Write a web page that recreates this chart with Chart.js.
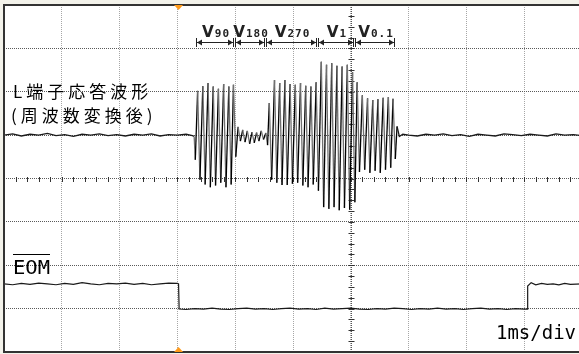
<!DOCTYPE html>
<html>
<head>
<meta charset="utf-8">
<script src="https://cdn.jsdelivr.net/npm/chart.js@4.4.1/dist/chart.umd.min.js"></script>
<style>
  html, body { margin: 0; padding: 0; background: #f3f2ea; overflow: hidden; }
  body { width: 579px; height: 354px; }
  canvas { display: block; }
</style>
</head>
<body>
<canvas id="scope" width="582" height="354"></canvas>
<script>
// time in ms (1 ms/div), level in divisions from the bottom of the screen
const ch1Time = [
  0, 0.15, 0.3, 0.45, 0.6, 0.75, 0.9, 1.05, 1.2, 1.35, 1.5, 1.65, 1.8, 1.95, 2.1, 2.25, 2.4, 2.55, 2.7, 2.85, 3.0, 3.15, 3.26,
  3.29, 3.31, 3.35, 3.39, 3.44, 3.48, 3.53, 3.57, 3.62, 3.66, 3.71, 3.75, 3.80, 3.84, 3.89, 3.93, 3.97,
  4.01, 4.05, 4.09, 4.13, 4.17, 4.21, 4.25, 4.29, 4.33, 4.37, 4.41, 4.45, 4.49, 4.53,
  4.56, 4.59, 4.63, 4.68, 4.72, 4.77, 4.81, 4.86, 4.90, 4.95, 4.99, 5.04, 5.08, 5.13, 5.17, 5.22, 5.26, 5.31, 5.35, 5.40,
  5.44, 5.49, 5.53, 5.58, 5.62, 5.67, 5.71, 5.76, 5.80, 5.85, 5.89, 5.94, 5.98, 6.03, 6.07,
  6.11, 6.15, 6.20, 6.24, 6.29, 6.33, 6.38, 6.42, 6.47, 6.51, 6.56, 6.60, 6.65, 6.69, 6.73, 6.77, 6.80, 6.84, 6.90,
  7.0, 7.15, 7.3, 7.45, 7.6, 7.75, 7.9, 8.05, 8.2, 8.35, 8.5, 8.65, 8.8, 8.95, 9.1, 9.25, 9.4, 9.55, 9.7, 9.85, 10.0
];
const ch1Div = [
  5.00, 5.03, 4.98, 5.02, 5.00, 5.04, 4.99, 5.01, 4.97, 5.02, 5.00, 5.03, 4.99, 5.01, 4.98, 5.02, 5.00, 5.03, 4.98, 5.01, 5.00, 5.02, 4.99,
  4.97, 4.43, 6.02, 3.97, 6.13, 3.86, 6.20, 3.80, 6.12, 3.84, 6.07, 3.90, 6.18, 3.80, 6.12, 3.86, 6.16,
  4.50, 5.19, 4.86, 5.12, 4.84, 5.10, 4.80, 5.07, 4.82, 5.06, 4.86, 5.10, 4.90, 5.05,
  4.77, 5.74, 3.97, 6.27, 3.90, 6.20, 3.85, 6.27, 3.85, 6.18, 3.88, 6.16, 3.90, 6.20, 3.84, 6.14, 3.80, 6.12, 3.86, 6.22,
  3.72, 6.69, 3.34, 6.62, 3.30, 6.66, 3.34, 6.60, 3.27, 6.58, 3.32, 6.62, 3.28, 6.45, 3.45,
  6.22, 4.15, 5.92, 4.20, 5.85, 4.13, 5.81, 4.18, 5.83, 4.13, 5.86, 4.20, 5.88, 4.25, 5.84, 4.45, 5.20, 4.97, 5.02,
  5.00, 4.98, 5.02, 5.00, 5.03, 4.99, 5.01, 4.97, 5.02, 5.00, 4.98, 5.03, 5.01, 4.99, 5.02, 5.00, 4.98, 5.03, 5.00, 5.01, 4.99
];
const eomTime = [
  0, 0.15, 0.3, 0.45, 0.6, 0.75, 0.9, 1.05, 1.2, 1.35, 1.5, 1.65, 1.8, 1.95, 2.1, 2.25, 2.4, 2.55, 2.7, 2.85, 3.0, 3.02,
  3.03, 3.15, 3.3, 3.45, 3.6, 3.75, 3.9, 4.05, 4.2, 4.35, 4.5, 4.65, 4.8, 4.95, 5.1, 5.25, 5.4, 5.55, 5.7, 5.85,
  6.0, 6.15, 6.3, 6.45, 6.6, 6.75, 6.9, 7.05, 7.2, 7.35, 7.5, 7.65, 7.8, 7.95, 8.1, 8.25, 8.4, 8.55, 8.7, 8.85, 9.0, 9.05,
  9.06, 9.12, 9.2, 9.3, 9.4, 9.5, 9.6, 9.7, 9.8, 10.0
];
const eomDiv = [
  1.57, 1.55, 1.58, 1.56, 1.59, 1.57, 1.55, 1.58, 1.56, 1.60, 1.57, 1.55, 1.58, 1.57, 1.59, 1.56, 1.58, 1.55, 1.57, 1.59, 1.58, 1.57,
  0.99, 0.98, 1.00, 0.99, 1.01, 0.99, 0.98, 1.00, 1.01, 0.99, 1.00, 0.98, 1.00, 1.01, 0.99, 1.00, 0.98, 1.01, 0.99, 1.00,
  1.01, 0.99, 0.98, 1.00, 0.99, 1.01, 1.00, 0.98, 1.00, 0.99, 1.01, 0.99, 1.00, 0.98, 1.00, 1.01, 0.99, 1.00, 0.98, 1.00, 0.99, 0.99,
  1.52, 1.60, 1.55, 1.58, 1.56, 1.57, 1.55, 1.58, 1.56, 1.57
];
// measurement spans above the burst (ms)
const spanBounds = [3.30, 3.98, 4.52, 5.42, 6.06, 6.76];
const spanSubs = ['90', '180', '270', '1', '0.1'];
const trigTime = 3.02;
const centerTime = 6;
const centerDiv = 4;
const burstFrom = 3.28, burstTo = 6.8;

function drawText(ctx, text, x, y, font, width, spacing) {
  ctx.save();
  ctx.font = font;
  ctx.letterSpacing = (spacing || 0) + 'px';
  const w = ctx.measureText(text).width;
  ctx.translate(x, y);
  if (width) ctx.scale(width / w, 1);
  ctx.fillText(text, 0, 0);
  ctx.restore();
}

const scopeDeco = {
  id: 'scopeDeco',
  beforeDraw(chart) {
    const { ctx, chartArea: a } = chart;
    ctx.save();
    ctx.fillStyle = '#f3f2ea';
    ctx.fillRect(0, 0, chart.width, chart.height);
    ctx.fillStyle = '#fff';
    ctx.fillRect(a.left, a.top, a.right - a.left, a.bottom - a.top);
    ctx.restore();
  },
  beforeDatasetsDraw(chart) {
    const { ctx, chartArea: a, scales: { x, y } } = chart;
    const cy = Math.round(y.getPixelForValue(centerDiv)) + 0.5;
    const cx = Math.round(x.getPixelForValue(centerTime)) + 0.5;
    ctx.save();
    ctx.strokeStyle = '#555';
    ctx.lineWidth = 1;
    ctx.setLineDash([1, 1]);
    ctx.beginPath();
    ctx.moveTo(cx, a.top); ctx.lineTo(cx, a.bottom);
    ctx.stroke();
    ctx.setLineDash([]);
    ctx.strokeStyle = '#333';
    ctx.beginPath();
    for (let i = 1; i < 50; i++) {
      const px = Math.round(x.getPixelForValue(i * 0.2)) + 0.5;
      if (px > a.right) break;
      ctx.moveTo(px, cy - 2.5); ctx.lineTo(px, cy + 2.5);
    }
    for (let i = 1; i < 32; i++) {
      const py = Math.round(y.getPixelForValue(i * 0.25)) + 0.5;
      ctx.moveTo(cx - 3, py); ctx.lineTo(cx + 3, py);
    }
    ctx.stroke();
    ctx.restore();
  },
  afterDatasetsDraw(chart) {
    const { ctx, chartArea: a, scales: { x } } = chart;
    ctx.save();
    // frame
    ctx.fillStyle = '#333';
    ctx.fillRect(a.left - 1, a.top - 1, a.right - a.left + 1, 2);
    ctx.fillRect(a.left - 1, a.top - 1, 2, a.bottom - a.top + 2);
    ctx.fillRect(a.left - 1, a.bottom - 1, a.right - a.left + 1, 2);
    // trigger markers
    const tx = x.getPixelForValue(trigTime);
    ctx.fillStyle = '#ff9a1a';
    ctx.beginPath();
    ctx.moveTo(tx - 4.5, a.top); ctx.lineTo(tx + 4.5, a.top); ctx.lineTo(tx, a.top + 5);
    ctx.closePath(); ctx.fill();
    ctx.beginPath();
    ctx.moveTo(tx - 4.5, a.bottom); ctx.lineTo(tx + 4.5, a.bottom); ctx.lineTo(tx, a.bottom - 5);
    ctx.closePath(); ctx.fill();
    // measurement spans
    const yd = 42;
    ctx.fillStyle = '#222';
    for (let i = 0; i < spanSubs.length; i++) {
      const x0 = Math.round(x.getPixelForValue(spanBounds[i])) + 1;
      const x1 = Math.round(x.getPixelForValue(spanBounds[i + 1])) - 1;
      ctx.fillRect(x0, yd - 4, 1, 9);
      ctx.fillRect(x1, yd - 4, 1, 9);
      ctx.fillRect(x0, yd, x1 - x0, 1);
      ctx.beginPath();
      ctx.moveTo(x0 + 1, yd + 0.5); ctx.lineTo(x0 + 6, yd - 2.5); ctx.lineTo(x0 + 6, yd + 3.5);
      ctx.closePath(); ctx.fill();
      ctx.beginPath();
      ctx.moveTo(x1, yd + 0.5); ctx.lineTo(x1 - 5, yd - 2.5); ctx.lineTo(x1 - 5, yd + 3.5);
      ctx.closePath(); ctx.fill();
      // label V with subscript, centred on the span
      ctx.font = 'bold 16px "DejaVu Sans"';
      const vw = ctx.measureText('V').width * 0.95;
      ctx.font = 'bold 11px "DejaVu Sans Mono"';
      ctx.letterSpacing = '1px';
      const sw = ctx.measureText(spanSubs[i]).width;
      ctx.letterSpacing = '0px';
      const lx = (x0 + x1) / 2 - (vw + sw) / 2 + 1;
      drawText(ctx, 'V', lx, 37, 'bold 16px "DejaVu Sans"', vw);
      drawText(ctx, spanSubs[i], lx + vw + 1, 37, 'bold 11px "DejaVu Sans Mono"', 0, 1);
    }
    // captions
    ctx.fillStyle = '#000';
    drawText(ctx, 'L端子応答波形', 13, 98, '17px "Noto Sans CJK JP"', 0, 4);
    drawText(ctx, '(周波数変換後)', 11, 122, '17px "Noto Sans CJK JP"', 0, 4);
    drawText(ctx, 'EOM', 13, 274, '20px "DejaVu Sans Mono"', 37);
    ctx.fillRect(13, 254, 37, 1);
    drawText(ctx, '1ms/div', 496, 339, '20px "DejaVu Sans Mono"', 80);
    ctx.restore();
  }
};

const inBurst = c => c.p0.parsed.x > burstFrom && c.p0.parsed.x < burstTo;

new Chart(document.getElementById('scope'), {
  type: 'line',
  data: {
    datasets: [
      {
        data: ch1Time.map((t, i) => ({ x: t, y: ch1Div[i] })),
        borderColor: '#1a1a1a',
        borderWidth: 1.3,
        pointRadius: 0,
        tension: 0,
        segment: {
          borderColor: c => inBurst(c) ? (c.p0DataIndex % 2 ? '#707070' : '#000') : '#1a1a1a'
        }
      },
      {
        data: eomTime.map((t, i) => ({ x: t, y: eomDiv[i] })),
        borderColor: '#1a1a1a',
        borderWidth: 1.2,
        pointRadius: 0,
        tension: 0
      }
    ]
  },
  options: {
    responsive: false,
    animation: false,
    events: [],
    layout: { autoPadding: false, padding: { left: 4, top: 5, right: 0, bottom: 2 } },
    plugins: { legend: { display: false }, tooltip: { enabled: false } },
    scales: {
      x: {
        type: 'linear', min: 0, max: 10,
        ticks: { display: false, stepSize: 1 },
        grid: { color: '#a6a6a6', drawTicks: false },
        border: { display: false, dash: [1, 1] },
        afterFit: s => { s.height = 0; }
      },
      y: {
        min: 0, max: 8,
        ticks: { display: false, stepSize: 1 },
        grid: { color: '#5a5a5a', drawTicks: false },
        border: { display: false, dash: [1, 1] },
        afterFit: s => { s.width = 0; }
      }
    }
  },
  plugins: [scopeDeco]
});
</script>
</body>
</html>
